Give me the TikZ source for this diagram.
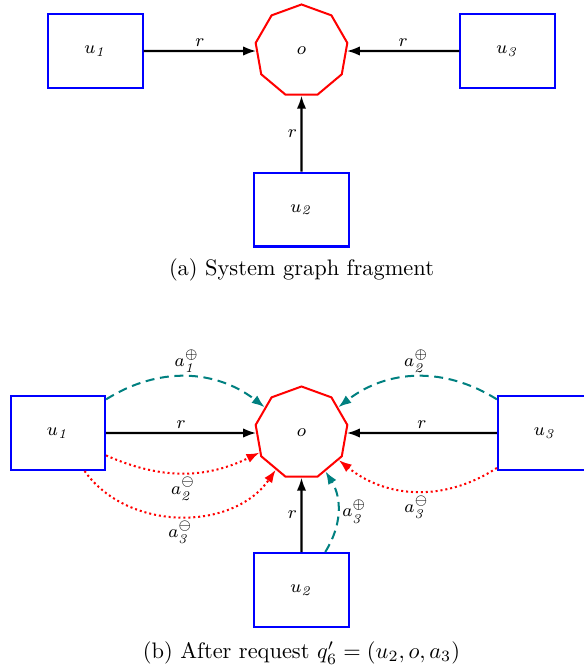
\documentclass[tikz,border=0pt]{standalone}
\usetikzlibrary{shapes.geometric,arrows.meta}
\begin{document}
\begin{tikzpicture}[x=0.446pt,y=-0.446pt,
  ubox/.style={draw=blue,line width=0.9pt,minimum width=42pt,minimum height=33pt,inner sep=0pt,font=\footnotesize},
  obj/.style={draw=red,line width=0.9pt,regular polygon,regular polygon sides=9,minimum size=41.5pt,inner sep=0pt,font=\footnotesize},
  tip/.style={-{Latex[length=5.8pt,width=4.2pt]}},
  redge/.style={tip,line width=0.9pt},
  plusedge/.style={tip,draw=teal,line width=0.9pt,dash pattern=on 4pt off 2.5pt},
  minusedge/.style={tip,draw=red,line width=0.9pt,dash pattern=on 0.9pt off 1.3pt},
  lab/.style={font=\footnotesize,inner sep=1.5pt}]
\useasboundingbox (0,0) rectangle (584,671);
\clip (0,0) rectangle (584,671);
% (a)
\node[ubox] (u1) at (95.5,51) {$u_{\mathit{1}}$};
\node[obj] (o) at (301.5,51) {$o$};
\node[ubox] (u3) at (507.5,51) {$u_{\mathit{3}}$};
\node[ubox] (u2) at (301.5,209.5) {$u_{\mathit{2}}$};
\draw[redge] (u1) -- node[lab,above]{$r$} (o);
\draw[redge] (u3) -- node[lab,above]{$r$} (o);
\draw[redge] (u2) -- node[lab,left]{$r$} (o);
\node (capa) at (301.5,270) {(a) System graph fragment};
% (b)
\node[ubox] (bu1) at (58,433) {$u_{\mathit{1}}$};
\node[obj] (bo) at (301.5,433) {$o$};
\node[ubox] (bu3) at (545,433) {$u_{\mathit{3}}$};
\node[ubox] (bu2) at (301.5,590) {$u_{\mathit{2}}$};
\draw[redge] (bu1) -- node[lab,above]{$r$} (bo);
\draw[redge] (bu3) -- node[lab,above]{$r$} (bo);
\draw[redge] (bu2) -- node[lab,left]{$r$} (bo);
\draw[plusedge] (bu1) to[bend left=35] node[lab,above]{$a^{\oplus}_{\mathit{1}}$} (bo);
\draw[minusedge] (bu1) to[bend right=25] node[lab,below]{$a^{\ominus}_{\mathit{2}}$} (bo);
\draw[minusedge] (bu1) to[bend right=55] node[lab,below]{$a^{\ominus}_{\mathit{3}}$} (bo);
\draw[plusedge] (bu3) to[bend right=35] node[lab,above]{$a^{\oplus}_{\mathit{2}}$} (bo);
\draw[minusedge] (bu3) to[bend left=36] node[lab,below]{$a^{\ominus}_{\mathit{3}}$} (bo);
\draw[plusedge] (bu2) to[bend right=32] node[lab,right]{$a^{\oplus}_{\mathit{3}}$} (bo);
\node (capb) at (301.5,653) {(b) After request $q'_6=(u_2,o,a_3)$};
\end{tikzpicture}
\end{document}
